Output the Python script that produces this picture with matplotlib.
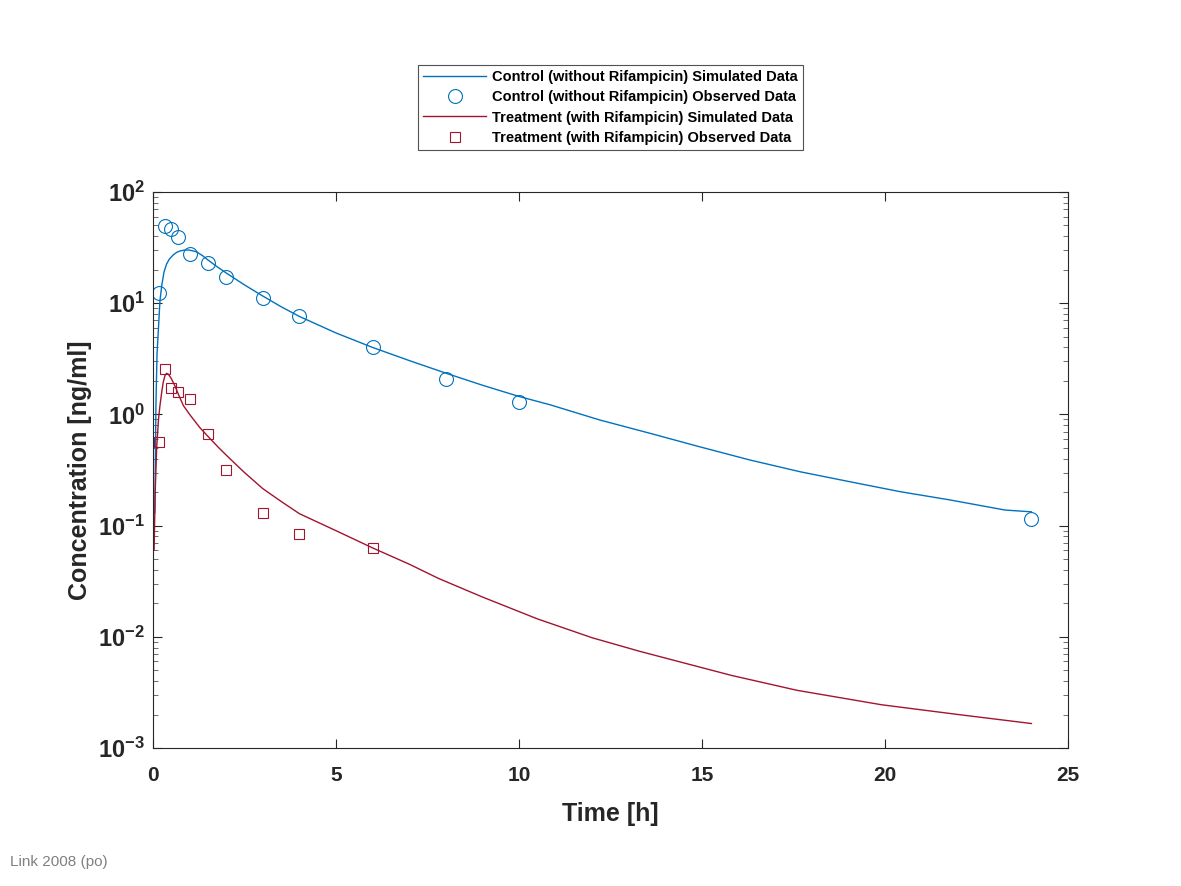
import numpy as np
import matplotlib
matplotlib.use("Agg")
import matplotlib.pyplot as plt
from matplotlib.ticker import LogLocator, FixedLocator, NullFormatter

plt.rcParams['font.family'] = ['Liberation Sans', 'DejaVu Sans']
plt.rcParams['mathtext.fontset'] = 'custom'
plt.rcParams['mathtext.rm'] = 'Liberation Sans:bold'
plt.rcParams['mathtext.bf'] = 'Liberation Sans:bold'
plt.rcParams['mathtext.it'] = 'Liberation Sans:bold'

# Simulated control (without Rifampicin)
ctrl_sim_t = [0.05, 0.08, 0.11, 0.146, 0.19, 0.24, 0.30, 0.37, 0.45, 0.56, 0.65, 0.74, 0.85, 0.97,
              1.08, 1.19, 1.35, 1.5, 1.75, 2.0, 2.5, 3.0, 3.5, 4.0, 5.0, 6.0, 7.0, 8.0, 9.0, 10.0,
              10.85, 12.21, 13.58, 14.95, 16.31, 17.68, 19.04, 20.41, 21.78, 23.28, 24.0]
ctrl_sim_c = [0.13, 1.2, 3.5, 5.7, 10.5, 14.5, 19.0, 22.5, 25.0, 27.3, 28.7, 29.5, 30.0, 30.1,
              29.6, 29.0, 26.8, 24.5, 21.3, 18.7, 14.6, 11.6, 9.3, 7.6, 5.4, 4.0, 3.05, 2.35, 1.83, 1.45,
              1.22, 0.89, 0.676, 0.51, 0.389, 0.305, 0.248, 0.202, 0.170, 0.138, 0.133]

# Observed control
ctrl_obs_t = [0.17, 0.33, 0.5, 0.67, 1.0, 1.5, 2.0, 3.0, 4.0, 6.0, 8.0, 10.0, 24.0]
ctrl_obs_c = [12.4, 49.4, 46.5, 39.4, 27.7, 23.0, 17.2, 11.1, 7.67, 4.04, 2.08, 1.29, 0.115]

# Simulated treatment (with Rifampicin)
trt_sim_t = [0.03, 0.06, 0.1, 0.15, 0.19, 0.24, 0.28, 0.33, 0.37, 0.42, 0.5, 0.6, 0.7, 0.83, 1.0,
             1.28, 1.51, 1.8, 2.1, 2.5, 3.0, 3.5, 4.0, 5.0, 6.0, 7.0, 7.8, 9.0, 10.5, 12.0, 13.3,
             14.7, 15.8, 17.6, 19.9, 22.0, 24.0]
trt_sim_c = [0.06, 0.2, 0.5, 0.9, 1.2, 1.6, 1.95, 2.25, 2.34, 2.3, 2.1, 1.8, 1.5, 1.2, 1.0,
             0.76, 0.63, 0.5, 0.4, 0.3, 0.215, 0.165, 0.128, 0.09, 0.063, 0.045, 0.0335, 0.0228,
             0.0145, 0.0098, 0.0074, 0.0056, 0.0045, 0.0033, 0.00245, 0.0020, 0.00166]

# Observed treatment
trt_obs_t = [0.17, 0.33, 0.5, 0.67, 1.0, 1.5, 2.0, 3.0, 4.0, 6.0]
trt_obs_c = [0.565, 2.56, 1.73, 1.59, 1.37, 0.667, 0.316, 0.130, 0.084, 0.063]

xticks = [0, 5, 10, 15, 20, 25]
yticks = [1e-3, 1e-2, 1e-1, 1e0, 1e1, 1e2]
ytick_labels = [r'$\mathbf{10^{-3}}$', r'$\mathbf{10^{-2}}$', r'$\mathbf{10^{-1}}$',
                r'$\mathbf{10^{0}}$', r'$\mathbf{10^{1}}$', r'$\mathbf{10^{2}}$']

blue = '#0072BD'
red = '#A2142F'
axcol = '#262626'

fig = plt.figure(figsize=(11.81, 8.86), dpi=100)
ax = fig.add_axes([153/1181, 1-748/886, (1068-153)/1181, (748-192)/886])

ax.plot(ctrl_sim_t, ctrl_sim_c, '-', color=blue, lw=1.0,
        label='Control (without Rifampicin) Simulated Data')
ax.plot(ctrl_obs_t, ctrl_obs_c, 'o', mfc='none', mec=blue, ms=10, mew=0.8,
        label='Control (without Rifampicin) Observed Data')
ax.plot(trt_sim_t, trt_sim_c, '-', color=red, lw=1.0,
        label='Treatment (with Rifampicin) Simulated Data')
ax.plot(trt_obs_t, trt_obs_c, 's', mfc='none', mec=red, ms=7.5, mew=0.8,
        label='Treatment (with Rifampicin) Observed Data')

ax.set_yscale('log')
ax.set_xlim(0, 25)
ax.set_ylim(1e-3, 1e2)
ax.set_xticks(xticks)
ax.set_xticklabels([str(v) for v in xticks])
ax.set_yticks(yticks)
ax.set_yticklabels(ytick_labels)
ax.yaxis.set_minor_locator(LogLocator(base=10, subs=np.arange(2, 10), numticks=20))
ax.yaxis.set_minor_formatter(NullFormatter())
ax.xaxis.set_minor_locator(FixedLocator([]))

ax.tick_params(axis='both', which='major', direction='in', length=6.5, width=0.8,
               top=True, right=True, colors=axcol)
ax.tick_params(axis='x', which='major', labelsize=15, pad=13)
ax.tick_params(axis='y', which='major', labelsize=17, pad=6)
ax.tick_params(axis='both', which='minor', direction='in', length=3.5, width=0.6,
               top=True, right=True, colors='#555555')
for lab in ax.get_xticklabels():
    lab.set_fontweight('bold')
for sp in ax.spines.values():
    sp.set_color(axcol)
    sp.set_linewidth(0.8)

ax.set_xlabel('Time [h]', fontsize=18, fontweight='bold', color=axcol, labelpad=12)
ax.set_ylabel('Concentration [ng/ml]', fontsize=18, fontweight='bold', color=axcol, labelpad=4)

leg = ax.legend(loc='center', bbox_to_anchor=(610.5/1181, 1-107.5/886),
                bbox_transform=fig.transFigure, frameon=True, fancybox=False,
                prop={'weight': 'bold', 'size': 10.5}, handlelength=4.3,
                borderpad=0.35, labelspacing=0.42, handletextpad=0.4, borderaxespad=0)
leg.get_frame().set_edgecolor(axcol)
leg.get_frame().set_linewidth(0.8)

fig.text(10/1181, 1-862/886, 'Link 2008 (po)', fontsize=11, color='#808080',
         ha='left', va='center')

fig.savefig('out.png', dpi=100, facecolor='white')
